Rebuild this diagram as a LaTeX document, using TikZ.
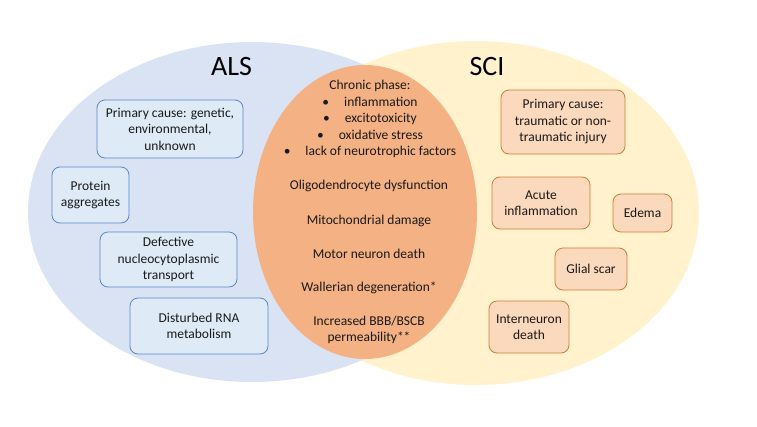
\documentclass[tikz,border=0pt]{standalone}
\usepackage{fontspec}
\setmainfont{Carlito}
\definecolor{alsfill}{HTML}{DAE3F3}
\definecolor{scifill}{HTML}{FFF2CC}
\definecolor{midfill}{HTML}{F4B183}
\definecolor{bboxfill}{HTML}{DEEBF7}
\definecolor{bboxline}{HTML}{5B87C9}
\definecolor{oboxfill}{HTML}{FAD9BC}
\definecolor{oboxline}{HTML}{D07A3A}
\begin{document}
\begin{tikzpicture}[x=1pt,y=-1pt,
  txt/.style={font=\fontsize{13.5}{16.5}\selectfont, align=center, inner sep=0pt, text=black!90},
  bbox/.style={txt, draw=bboxline, fill=bboxfill, rounded corners=8pt, line width=0.8pt},
  obox/.style={txt, draw=oboxline, fill=oboxfill, rounded corners=8pt, line width=0.8pt},
  title/.style={font=\fontsize{28}{32}\selectfont, inner sep=0pt, text=black}]
\useasboundingbox (0,0) rectangle (757,426);
\fill[white] (0,0) rectangle (757,426);
% circles
\fill[scifill] (476,213) ellipse [x radius=223pt, y radius=172pt];
\fill[alsfill] (252,212) ellipse [x radius=224pt, y radius=170pt];
\fill[midfill] (365,212) ellipse [x radius=112pt, y radius=147pt];
% titles
\node[title] (als) at (231.5,67) {ALS};
\node[title] (sci) at (487,67) {SCI};
% ALS boxes
\node[bbox, minimum width=146pt, minimum height=58pt] (b1) at (170,129) {Primary cause: genetic,\\environmental,\\unknown};
\node[bbox, minimum width=77pt, minimum height=56pt] (b2) at (90.5,195) {Protein\\aggregates};
\node[bbox, minimum width=137pt, minimum height=55pt] (b3) at (168.5,259.5) {Defective\\nucleocytoplasmic\\transport};
\node[bbox, minimum width=138pt, minimum height=56pt] (b4) at (199,326) {Disturbed RNA\\metabolism};
% SCI boxes
\node[obox, minimum width=124pt, minimum height=64pt] (r1) at (563,122) {Primary cause:\\traumatic or non-\\traumatic injury};
\node[obox, minimum width=98pt, minimum height=52pt] (r2) at (541,203) {Acute\\inflammation};
\node[obox, minimum width=59pt, minimum height=38pt] (r3) at (642.5,213) {Edema};
\node[obox, minimum width=72pt, minimum height=42pt] (r4) at (591,269) {Glial scar};
\node[obox, minimum width=80pt, minimum height=52pt] (r5) at (529,327) {Interneuron\\death};
% shared items
\node[txt] (m0) at (370,119) {Chronic phase:\\
\textbullet\hspace{15pt}inflammation\\
\textbullet\hspace{15pt}excitotoxicity\\
\textbullet\hspace{15pt}oxidative stress\\
\textbullet\hspace{15pt}lack of neurotrophic factors};
\node[txt] (m1) at (369,186) {Oligodendrocyte dysfunction};
\node[txt] (m2) at (369,221) {Mitochondrial damage};
\node[txt] (m3) at (369,254) {Motor neuron death};
\node[txt] (m4) at (369,288) {Wallerian degeneration*};
\node[txt] (m5) at (369,330) {Increased BBB/BSCB\\permeability**};
\end{tikzpicture}
\end{document}
